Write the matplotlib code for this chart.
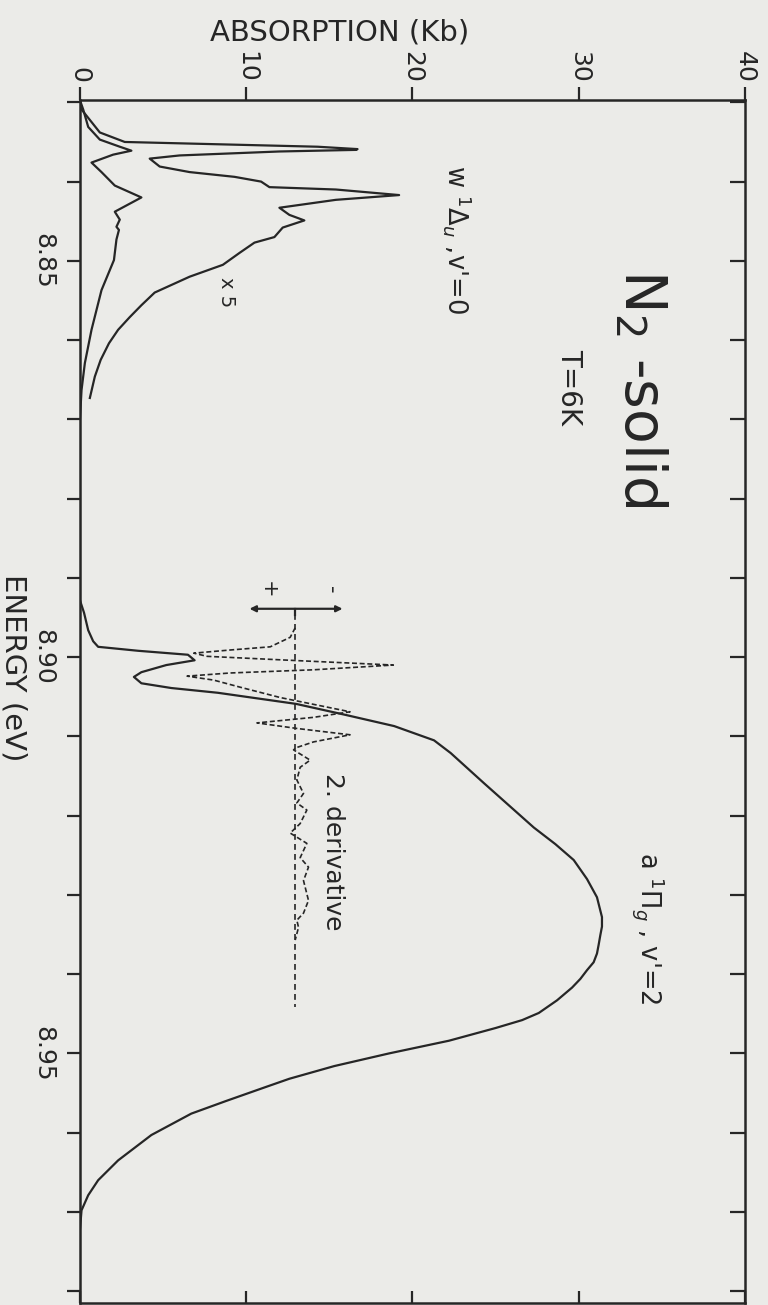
import matplotlib
matplotlib.use("Agg")
import matplotlib.pyplot as plt
import numpy as np

# absorption spectrum of solid N2 (energy in eV, absorption in Kb)
energy_main = [8.8297, 8.8309, 8.8331, 8.8347, 8.8356, 8.8361, 8.8366, 8.8376,
               8.8388, 8.8405, 8.8420, 8.8438, 8.8448, 8.8457, 8.8461, 8.8473,
               8.8499, 8.8537, 8.8587, 8.8629, 8.8663, 8.8701, 8.8928, 8.8944,
               8.8966, 8.8980, 8.8987, 8.8992, 8.8997, 8.9004, 8.9010, 8.9019,
               8.9025, 8.9033, 8.9039, 8.9045, 8.9059, 8.9073, 8.9087, 8.9105,
               8.9121, 8.9140, 8.9159, 8.9187, 8.9215, 8.9236, 8.9256, 8.9280,
               8.9303, 8.9328, 8.9340, 8.9351, 8.9363, 8.9374, 8.9385, 8.9395,
               8.9406, 8.9417, 8.9433, 8.9449, 8.9458, 8.9468, 8.9484, 8.9500,
               8.9516, 8.9532, 8.9543, 8.9560, 8.9576, 8.9603, 8.9635, 8.9660,
               8.9679, 8.9698, 8.9723]
absorb_main = [0.0, 0.2, 0.5, 1.2, 2.4, 3.1, 2.0, 0.7,
               1.3, 2.1, 3.7, 2.1, 2.4, 2.2, 2.35, 2.2,
               2.05, 1.3, 0.7, 0.3, 0.1, 0.0, 0.0, 0.25,
               0.5, 0.8, 1.1, 3.5, 6.5, 6.9, 5.2, 3.7,
               3.25, 3.7, 5.5, 8.3, 13.0, 16.0, 18.9, 21.3,
               22.3, 23.3, 24.3, 25.8, 27.3, 28.6, 29.7, 30.5,
               31.1, 31.4, 31.4, 31.3, 31.2, 31.1, 30.9, 30.5,
               30.1, 29.6, 28.7, 27.6, 26.6, 25.0, 22.2, 18.6,
               15.3, 12.6, 11.1, 8.8, 6.7, 4.3, 2.3, 1.1,
               0.5, 0.1, 0.0]

# w 1Delta_u band magnified x5
energy_x5 = [8.8297, 8.8309, 8.8338, 8.8350, 8.8356, 8.8359, 8.8360, 8.8362,
             8.8367, 8.8371, 8.8376, 8.8381, 8.8388, 8.8394, 8.8400, 8.8407,
             8.8410, 8.8417, 8.8423, 8.8433, 8.8442, 8.8449, 8.8458, 8.8470,
             8.8477, 8.8490, 8.8505, 8.8520, 8.8540, 8.8556, 8.8571, 8.8587,
             8.8604, 8.8625, 8.8646, 8.8673]
absorb_x5 = [0.0, 0.1, 1.2, 2.7, 14.3, 16.7, 16.6, 12.0,
             6.0, 4.2, 4.5, 4.8, 6.6, 9.3, 10.9, 11.4,
             15.4, 19.2, 15.4, 12.0, 12.6, 13.5, 12.2, 11.7,
             10.5, 9.6, 8.6, 6.6, 4.5, 3.7, 3.0, 2.3,
             1.75, 1.25, 0.9, 0.6]

# second derivative (arbitrary units, drawn around its own zero line)
energy_d2 = [8.8963, 8.8975, 8.8987, 8.8991, 8.8995, 8.8999, 8.9004, 8.9010,
             8.9016, 8.9020, 8.9024, 8.9029, 8.9038, 8.9051, 8.9069, 8.9076,
             8.9083, 8.9090, 8.9098, 8.9107, 8.9114, 8.9117, 8.9130, 8.9139,
             8.9155, 8.9172, 8.9184, 8.9193, 8.9210, 8.9222, 8.9235, 8.9253,
             8.9265, 8.9282, 8.9307, 8.9323, 8.9332, 8.9341, 8.9357]
value_d2 = [0, -0.3, -1.5, -3.9, -6.1, -5.3, -0.3, 5.9,
            1.1, -3.9, -6.5, -4.9, -3.3, -0.9, 3.3, 1.1,
            -2.3, 0.1, 3.3, 1.1, 0.1, -0.1, 0.9, 0.3,
            0.1, 0.5, 0.1, 0.7, 0.3, -0.3, 0.7, 0.3,
            0.8, 0.5, 0.8, 0.5, 0.1, 0.2, 0]
d2_zero = 12.95
d2_span = (8.8945, 8.9442)

absorb_ticks = [0, 10, 20, 30, 40]
energy_ticks = [8.83, 8.84, 8.85, 8.86, 8.87, 8.88, 8.89, 8.90,
                8.91, 8.92, 8.93, 8.94, 8.95, 8.96, 8.97, 8.98]
energy_labels = ['', '', '8.85', '', '', '', '', '8.90',
                 '', '', '', '', '8.95', '', '', '']

ink = '#262626'
paper = '#ebebe8'

plt.rcParams['font.family'] = ['DejaVu Sans']

fig = plt.figure(figsize=(7.68, 13.05), dpi=100, facecolor=paper)
ax = fig.add_axes([0.104, 0.0015, 0.866, 0.9219])
ax.set_facecolor(paper)

ax.plot(absorb_main, energy_main, color=ink, lw=1.6, solid_joinstyle='round')
ax.plot(absorb_x5, energy_x5, color=ink, lw=1.6, solid_joinstyle='round')
ax.plot(d2_zero + np.array(value_d2), energy_d2, color=ink, lw=1.2,
        ls=(0, (3, 1.6)))
ax.plot([d2_zero, d2_zero], d2_span, color=ink, lw=1.2, ls=(0, (3.5, 2.5)))

# +/- scale bar for the derivative
bar_e = 8.8939
ax.annotate('', xy=(10.2, bar_e), xytext=(15.8, bar_e),
            arrowprops=dict(arrowstyle='<|-|>', color=ink, lw=1.6,
                            mutation_scale=9, shrinkA=0, shrinkB=0))
ax.plot([d2_zero, d2_zero], [bar_e, bar_e + 0.0008], color=ink, lw=1.6)
ax.text(11.3, 8.8915, '+', rotation=-90, ha='center', va='center',
        fontsize=15, color=ink)
ax.text(15.1, 8.8915, '-', rotation=-90, ha='center', va='center',
        fontsize=15, color=ink)

ax.set_xlim(0, 40)
ax.set_ylim(8.9815, 8.8297)

# labels
ax.text(33.7, 8.8661, r'N$_2$ -solid', rotation=-90, ha='center', va='center',
        fontsize=41, color=ink)
ax.text(29.4, 8.8659, 'T=6K', rotation=-90, ha='center', va='center',
        fontsize=20, color=ink)
ax.text(22.7, 8.8473, r"w $^1\Delta_u$ ,v'=0", rotation=-90, ha='center',
        va='center', fontsize=18.5, color=ink)
ax.text(8.8, 8.8539, 'x 5', rotation=-90, ha='center', va='center',
        fontsize=14, color=ink)
ax.text(34.2, 8.9342, r"a $^1\Pi_g$ , v'=2", rotation=-90, ha='center',
        va='center', fontsize=18.5, color=ink)
ax.text(15.2, 8.9246, '2. derivative', rotation=-90, ha='center',
        va='center', fontsize=18, color=ink)

# axes: absorption on top, energy on the left
for s in ax.spines.values():
    s.set_color(ink)
    s.set_linewidth(1.8)

ax.set_xticks(absorb_ticks)
ax.set_xticklabels([])
ax.tick_params(axis='x', direction='in', length=9, width=1.6, color=ink)
top = ax.secondary_xaxis('top')
top.set_xticks(absorb_ticks)
top.set_xticklabels([str(t) for t in absorb_ticks], rotation=-90)
top.tick_params(direction='out', length=9.5, width=1.6, color=ink,
                labelsize=18, labelcolor=ink, pad=3)
top.spines['top'].set_visible(False)

ax.set_yticks(energy_ticks)
ax.set_yticklabels(energy_labels, rotation=-90, va='center')
ax.tick_params(axis='y', direction='out', length=9.5, width=1.6, color=ink,
               labelsize=18, labelcolor=ink, pad=8)
right = ax.secondary_yaxis('right')
right.set_yticks(energy_ticks)
right.set_yticklabels([])
right.tick_params(direction='in', length=11, width=1.6, color=ink)
right.spines['right'].set_visible(False)

fig.text(340 / 768, 1 - 33 / 1305, 'ABSORPTION (Kb)', ha='center',
         va='center', fontsize=21, color=ink)
fig.text(13 / 768, 1 - 668 / 1305, 'ENERGY (eV)', rotation=-90, ha='center',
         va='center', fontsize=21, color=ink)

fig.savefig('out.png', dpi=100, facecolor=paper)
